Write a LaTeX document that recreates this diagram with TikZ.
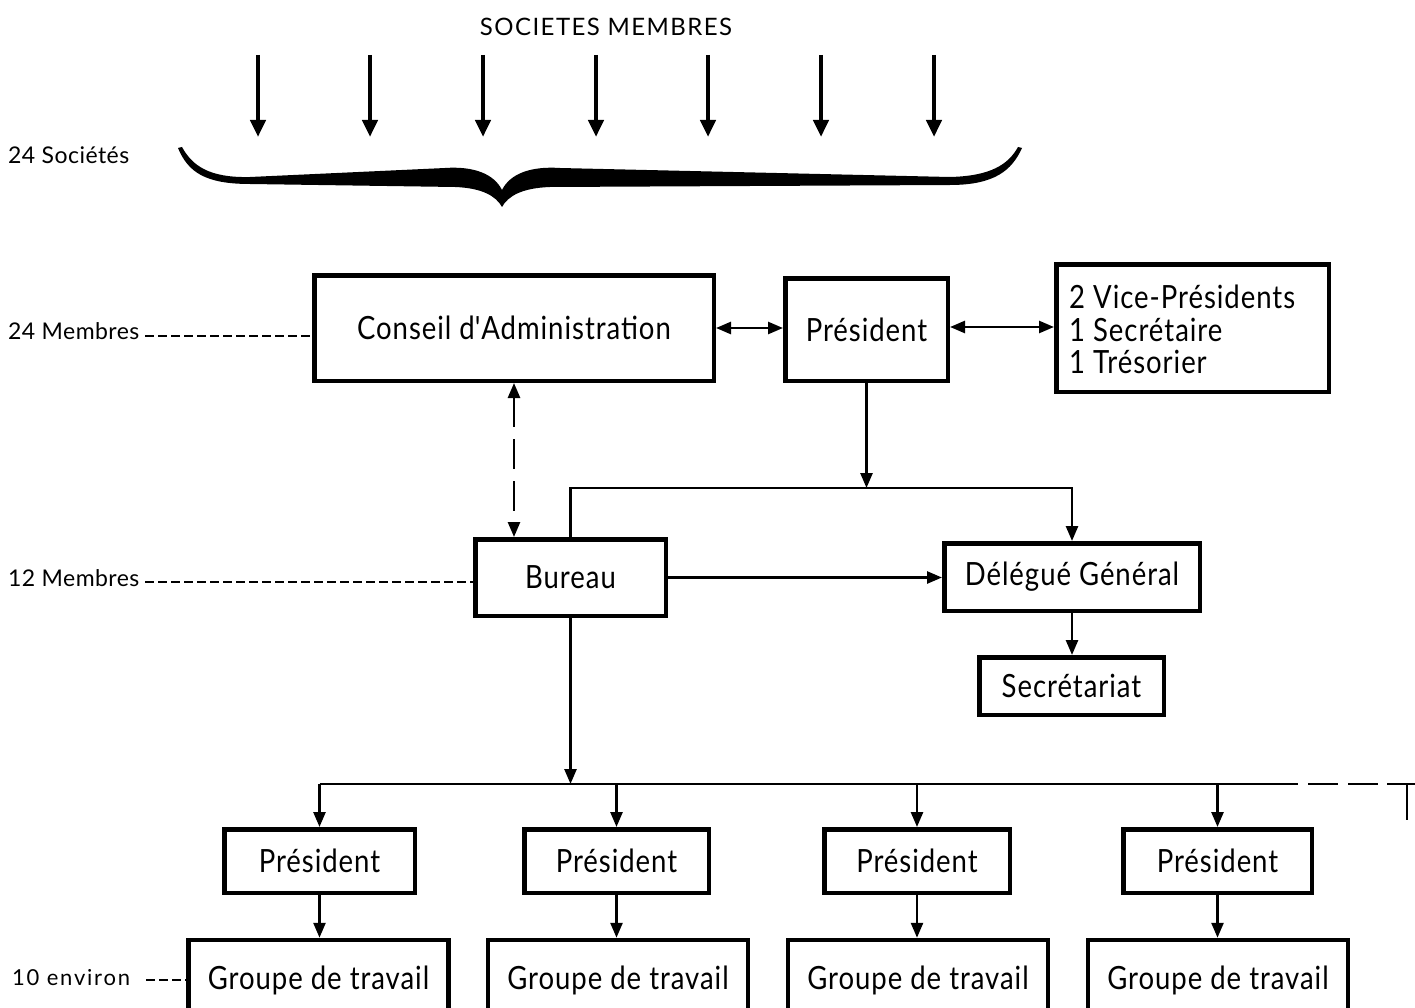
\documentclass[tikz,border=0pt]{standalone}
\usepackage{fontspec}
\setmainfont{Lato}
\newfontfamily\boxfont{Lato}[FakeStretch=0.86, LetterSpace=3]
\newfontfamily\labfont{Lato}[LetterSpace=2]
\newfontfamily\envfont{Lato}[LetterSpace=8]
\newfontfamily\titfont{Lato}[LetterSpace=6]
\usetikzlibrary{arrows.meta}
\tikzset{
  box/.style={draw, line width=4.5pt, inner sep=0pt, anchor=center,
              font=\boxfont\fontsize{32}{32.5}\selectfont},
  lab/.style={inner sep=0pt, anchor=west, font=\labfont\fontsize{23}{26}\selectfont},
  conn/.style={line width=2.6pt, -{Triangle[length=15pt,width=12pt]}},
  dconn/.style={line width=2.6pt, {Triangle[length=15pt,width=12pt]}-{Triangle[length=15pt,width=12pt]}},
  topar/.style={line width=4.5pt, -{Triangle[length=17pt,width=15pt]}},
  ldash/.style={line width=2pt, dash pattern=on 9pt off 4pt},
}
\begin{document}
\begin{tikzpicture}[x=1pt,y=-1pt]
\useasboundingbox (0,0) rectangle (1415,1008);
\clip (0,0) rectangle (1415,1008);

% title and top arrows
\node[inner sep=0pt, font=\titfont\fontsize{24}{28}\selectfont] (title) at (606,27) {SOCIETES MEMBRES};
\foreach \i/\x in {1/258,2/370,3/483,4/596,5/708,6/821,7/934}{
  \coordinate (ta\i) at (\x,55);
  \coordinate (tb\i) at (\x,137);
  \draw[topar] (ta\i) -- (tb\i);
}

% brace
\fill (178,148) .. controls (188,172) and (205,184) .. (250,184)
  -- (455,187) .. controls (482,188) and (496,196) .. (502,207)
  .. controls (508,196) and (522,188) .. (550,187)
  -- (950,185) .. controls (995,185) and (1012,170) .. (1022,148)
  -- (1018,147) .. controls (1008,165) and (990,176) .. (950,177)
  -- (560,168) .. controls (530,166) and (510,174) .. (502,190)
  .. controls (494,174) and (474,166) .. (445,168)
  -- (250,177) .. controls (208,178) and (192,165) .. (182,147) -- cycle;

% left labels
\node[lab] (soc) at (8,155) {24 Sociétés};
\node[lab] (m24) at (8,331) {24 Membres};
\node[lab] (m12) at (8,578) {12 Membres};
\node[lab, font=\envfont\fontsize{22}{26}\selectfont] (env) at (12,978) {10 environ};

% boxes
\node[box, minimum width=399.5pt, minimum height=105.5pt] (conseil) at (514,328) {Conseil d\textquotesingle Administration};
\node[box, minimum width=162.5pt, minimum height=102.5pt] (pres) at (866.5,329.5) {Président};
\node[box, minimum width=272.5pt, minimum height=127.5pt] (vp) at (1192.5,328) {};
\node[inner sep=0pt, anchor=west, align=left, font=\boxfont\fontsize{32}{32.5}\selectfont] (vptext) at (1069,329.5)
  {2 Vice-Présidents\\1 Secrétaire\\1 Trésorier};
\node[box, minimum width=190.5pt, minimum height=76.5pt] (bureau) at (570.5,577.5) {Bureau};
\node[box, minimum width=255.5pt, minimum height=67.5pt] (deleg) at (1072,577) {Délégué Général};
\node[box, minimum width=184.5pt, minimum height=57.5pt] (secr) at (1071.5,686) {Secrétariat};

\foreach \i/\x/\w in {1/319.5/190.5, 2/616.5/184.5, 3/917/185.5, 4/1217.5/188.5}{
  \node[box, minimum width=\w pt, minimum height=63.5pt] (p\i) at (\x,861) {Président};
}
\foreach \i/\x in {1/318.5, 2/618, 3/918, 4/1218}{
  \node[box, minimum width=260pt, minimum height=80pt] (g\i) at (\x,980) {Groupe de travail};
}

% connectors top
\draw[dconn] (conseil.east) -- (conseil.east -| pres.west);
\draw[dconn] (pres.east |- 0,327) -- (vp.west |- 0,327);
\coordinate (barT) at (866.5,488);
\draw[conn] (pres.south) -- (barT);
\draw[conn] (bureau.north) -- (bureau.north |- barT) -- (barT -| deleg.north) -- (deleg.north);
\draw[dconn, dash pattern=on 30pt off 12pt] (conseil.south) -- (conseil.south |- bureau.north);
\draw[conn] (bureau.east) -- (bureau.east -| deleg.west);
\draw[conn] (deleg.south) -- (deleg.south |- secr.north);

% lower bar
\coordinate (bar2) at (570.5,784);
\coordinate (bar2L) at (319.5,784);
\coordinate (bar2R) at (1298,784);
\coordinate (dashE) at (1387,784);
\coordinate (tE) at (1415,784);
\coordinate (tV) at (1407,784);
\coordinate (tB) at (1407,820);
\draw[conn] (bureau.south) -- (bar2);
\draw[line width=2.6pt] (bar2L) -- (bar2R);
\draw[line width=2.6pt, dash pattern=on 30pt off 10pt, dash phase=30pt] (bar2R) -- (dashE);
\draw[line width=2.6pt] (dashE) -- (tE);
\draw[line width=2.6pt] (tV) -- (tB);
\foreach \i in {1,2,3,4}{
  \draw[conn] (p\i.north |- bar2) -- (p\i.north);
  \draw[conn] (p\i.south) -- (p\i.south |- g\i.north);
}

% dashed label lines
\draw[ldash] (145,336) -- (conseil.west |- 0,336);
\draw[ldash] (145,582) -- (bureau.west |- 0,582);
\draw[ldash] (146,980) -- (g1.west |- 0,980);
\end{tikzpicture}
\end{document}
